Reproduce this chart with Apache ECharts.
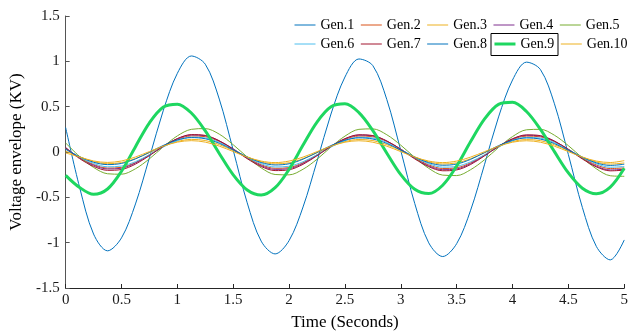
<!DOCTYPE html>
<html><head><meta charset="utf-8">
<script src="https://cdn.jsdelivr.net/npm/echarts@6/dist/echarts.min.js"></script>
<style>html,body{margin:0;padding:0;background:#fff}#c{width:631px;height:336px}</style>
</head><body><div id="c"></div><script>
const time = [0,0.125,0.25,0.375,0.5,0.625,0.75,0.875,1,1.125,1.25,1.375,1.5,1.625,1.75,1.875,2,2.125,2.25,2.375,2.5,2.625,2.75,2.875,3,3.125,3.25,3.375,3.5,3.625,3.75,3.875,4,4.125,4.25,4.375,4.5,4.625,4.75,4.875,5];
const xTicks = [0,0.5,1,1.5,2,2.5,3,3.5,4,4.5,5];
const yTicks = [-1.5,-1,-0.5,0,0.5,1,1.5];
const names = ['Gen.1','Gen.2','Gen.3','Gen.4','Gen.5','Gen.6','Gen.7','Gen.8','Gen.9','Gen.10'];
const gen1 = [0.27,-0.39,-0.905,-1.09,-0.947,-0.573,-0.062,0.462,0.868,1.059,0.968,0.584,0.019,-0.56,-0.983,-1.124,-0.977,-0.606,-0.102,0.419,0.827,1.026,0.952,0.578,0.014,-0.569,-1.002,-1.153,-1.011,-0.642,-0.135,0.387,0.794,0.991,0.909,0.532,-0.029,-0.611,-1.041,-1.19,-0.97];
const gen2 = [0.04,-0.062,-0.138,-0.177,-0.169,-0.116,-0.031,0.062,0.138,0.177,0.169,0.116,0.031,-0.063,-0.14,-0.18,-0.172,-0.118,-0.032,0.061,0.137,0.176,0.168,0.115,0.03,-0.064,-0.142,-0.182,-0.174,-0.119,-0.033,0.06,0.136,0.175,0.167,0.114,0.029,-0.065,-0.143,-0.183,-0.175];
const gen3 = [0.01,-0.052,-0.106,-0.129,-0.117,-0.072,-0.007,0.062,0.116,0.139,0.127,0.082,0.017,-0.053,-0.108,-0.131,-0.119,-0.073,-0.008,0.061,0.115,0.138,0.126,0.081,0.016,-0.054,-0.109,-0.132,-0.12,-0.074,-0.008,0.061,0.115,0.137,0.125,0.08,0.015,-0.055,-0.11,-0.133,-0.121];
const gen4 = [0.05,-0.065,-0.146,-0.187,-0.179,-0.122,-0.033,0.065,0.146,0.187,0.179,0.122,0.035,-0.066,-0.15,-0.192,-0.184,-0.126,-0.036,0.064,0.145,0.186,0.178,0.12,0.032,-0.068,-0.153,-0.195,-0.187,-0.128,-0.037,0.063,0.144,0.184,0.176,0.118,0.03,-0.07,-0.156,-0.198,-0.19];
const gen5 = [0.1,-0.05,-0.17,-0.24,-0.245,-0.185,-0.075,0.058,0.178,0.25,0.258,0.197,0.08,-0.055,-0.175,-0.248,-0.252,-0.19,-0.08,0.055,0.175,0.25,0.255,0.19,0.075,-0.06,-0.18,-0.255,-0.26,-0.195,-0.085,0.05,0.17,0.245,0.25,0.185,0.07,-0.065,-0.185,-0.262,-0.268];
const gen6 = [0.035,-0.056,-0.126,-0.163,-0.155,-0.106,-0.029,0.056,0.126,0.163,0.155,0.106,0.029,-0.057,-0.128,-0.165,-0.157,-0.107,-0.03,0.055,0.125,0.162,0.154,0.105,0.028,-0.058,-0.129,-0.167,-0.158,-0.108,-0.03,0.055,0.125,0.161,0.153,0.104,0.027,-0.059,-0.13,-0.168,-0.16];
const gen7 = [0.045,-0.073,-0.158,-0.202,-0.193,-0.134,-0.04,0.063,0.148,0.192,0.183,0.124,0.03,-0.074,-0.16,-0.205,-0.196,-0.136,-0.041,0.062,0.147,0.19,0.181,0.122,0.028,-0.076,-0.162,-0.207,-0.198,-0.138,-0.042,0.061,0.146,0.189,0.18,0.121,0.027,-0.077,-0.164,-0.208,-0.2];
const gen8 = [0.03,-0.053,-0.113,-0.139,-0.126,-0.076,-0.003,0.073,0.133,0.159,0.146,0.096,0.022,-0.055,-0.116,-0.143,-0.13,-0.079,-0.005,0.071,0.13,0.156,0.143,0.094,0.02,-0.057,-0.118,-0.146,-0.133,-0.081,-0.006,0.07,0.129,0.155,0.142,0.093,0.019,-0.058,-0.12,-0.148,-0.135];
const gen9 = [-0.257,-0.391,-0.467,-0.408,-0.212,0.059,0.322,0.496,0.528,0.43,0.232,-0.016,-0.252,-0.419,-0.475,-0.394,-0.191,0.076,0.33,0.498,0.532,0.435,0.236,-0.013,-0.25,-0.412,-0.459,-0.367,-0.155,0.115,0.365,0.525,0.548,0.447,0.249,0.004,-0.231,-0.399,-0.46,-0.387,-0.18];
const gen10 = [-0.01,-0.055,-0.099,-0.115,-0.099,-0.055,0.005,0.065,0.109,0.125,0.109,0.065,0.005,-0.056,-0.1,-0.117,-0.1,-0.056,0.004,0.064,0.108,0.124,0.108,0.064,0.004,-0.056,-0.1,-0.117,-0.1,-0.056,0.004,0.064,0.108,0.124,0.108,0.064,0.004,-0.056,-0.1,-0.116,-0.095];

const allValues = [gen1,gen2,gen3,gen4,gen5,gen6,gen7,gen8,gen9,gen10];
const colors = ['#0072BD','#D95319','#EDB120','#7E2F8E','#77AC30','#4DBEEE','#A2142F','#0072BD','#1ED760','#EDB120'];
const FONT = 'Liberation Serif';

const chart = echarts.init(document.getElementById('c'), null, {renderer:'canvas'});
const series = allValues.map((vals, i) => ({
  name: names[i], type: 'line', symbol: 'none', smooth: 0.33,
  data: time.map((t, j) => [t, vals[j]]),
  lineStyle: {width: i === 8 ? 3 : 1, color: colors[i]},
  itemStyle: {color: colors[i]},
  emphasis: {disabled: true}
}));
const legendItems = names.map((n, i) => ({name: n, lineStyle: {width: i === 8 ? 3 : 1}}));
const legendBase = {
  left: 294, itemWidth: 21, itemHeight: 13, itemGap: 6, selectedMode: false,
  itemStyle: {opacity: 0, borderWidth: 0},
  textStyle: {fontFamily: FONT, fontSize: 14, color: '#000'}, padding: 0
};
chart.setOption({
  animation: false,
  grid: {left: 63, right: 3, top: 16, bottom: 45},
  legend: [
    Object.assign({}, legendBase, {top: 18, data: legendItems.slice(0,5)}),
    Object.assign({}, legendBase, {top: 37, data: legendItems.slice(5)})
  ],
  graphic: [{type: 'rect', shape: {x: 491, y: 33.5, width: 67, height: 22}, style: {fill: 'none', stroke: '#000', lineWidth: 1}, silent: true}],
  xAxis: {
    type: 'value', min: xTicks[0], max: xTicks[xTicks.length-1], interval: 0.5,
    axisLine: {show: true, onZero: false, lineStyle: {color: '#262626'}},
    axisTick: {show: true, inside: true, length: 4, lineStyle: {color: '#262626'}},
    axisLabel: {fontFamily: FONT, fontSize: 15, color: '#1a1a1a', margin: 5},
    splitLine: {show: false},
    name: 'Time (Seconds)', nameLocation: 'middle', nameGap: 26,
    nameTextStyle: {fontFamily: FONT, fontSize: 17, color: '#000'}
  },
  yAxis: {
    type: 'value', min: yTicks[0], max: yTicks[yTicks.length-1], interval: 0.5,
    axisLine: {show: true, onZero: false, lineStyle: {color: '#555'}},
    axisTick: {show: true, inside: true, length: 4, lineStyle: {color: '#555'}},
    axisLabel: {fontFamily: FONT, fontSize: 15, color: '#1a1a1a', margin: 6},
    splitLine: {show: false},
    name: 'Voltage envelope (KV)', nameLocation: 'middle', nameGap: 38,
    nameTextStyle: {fontFamily: FONT, fontSize: 17, color: '#000'}
  },
  series: series
});
</script></body></html>
